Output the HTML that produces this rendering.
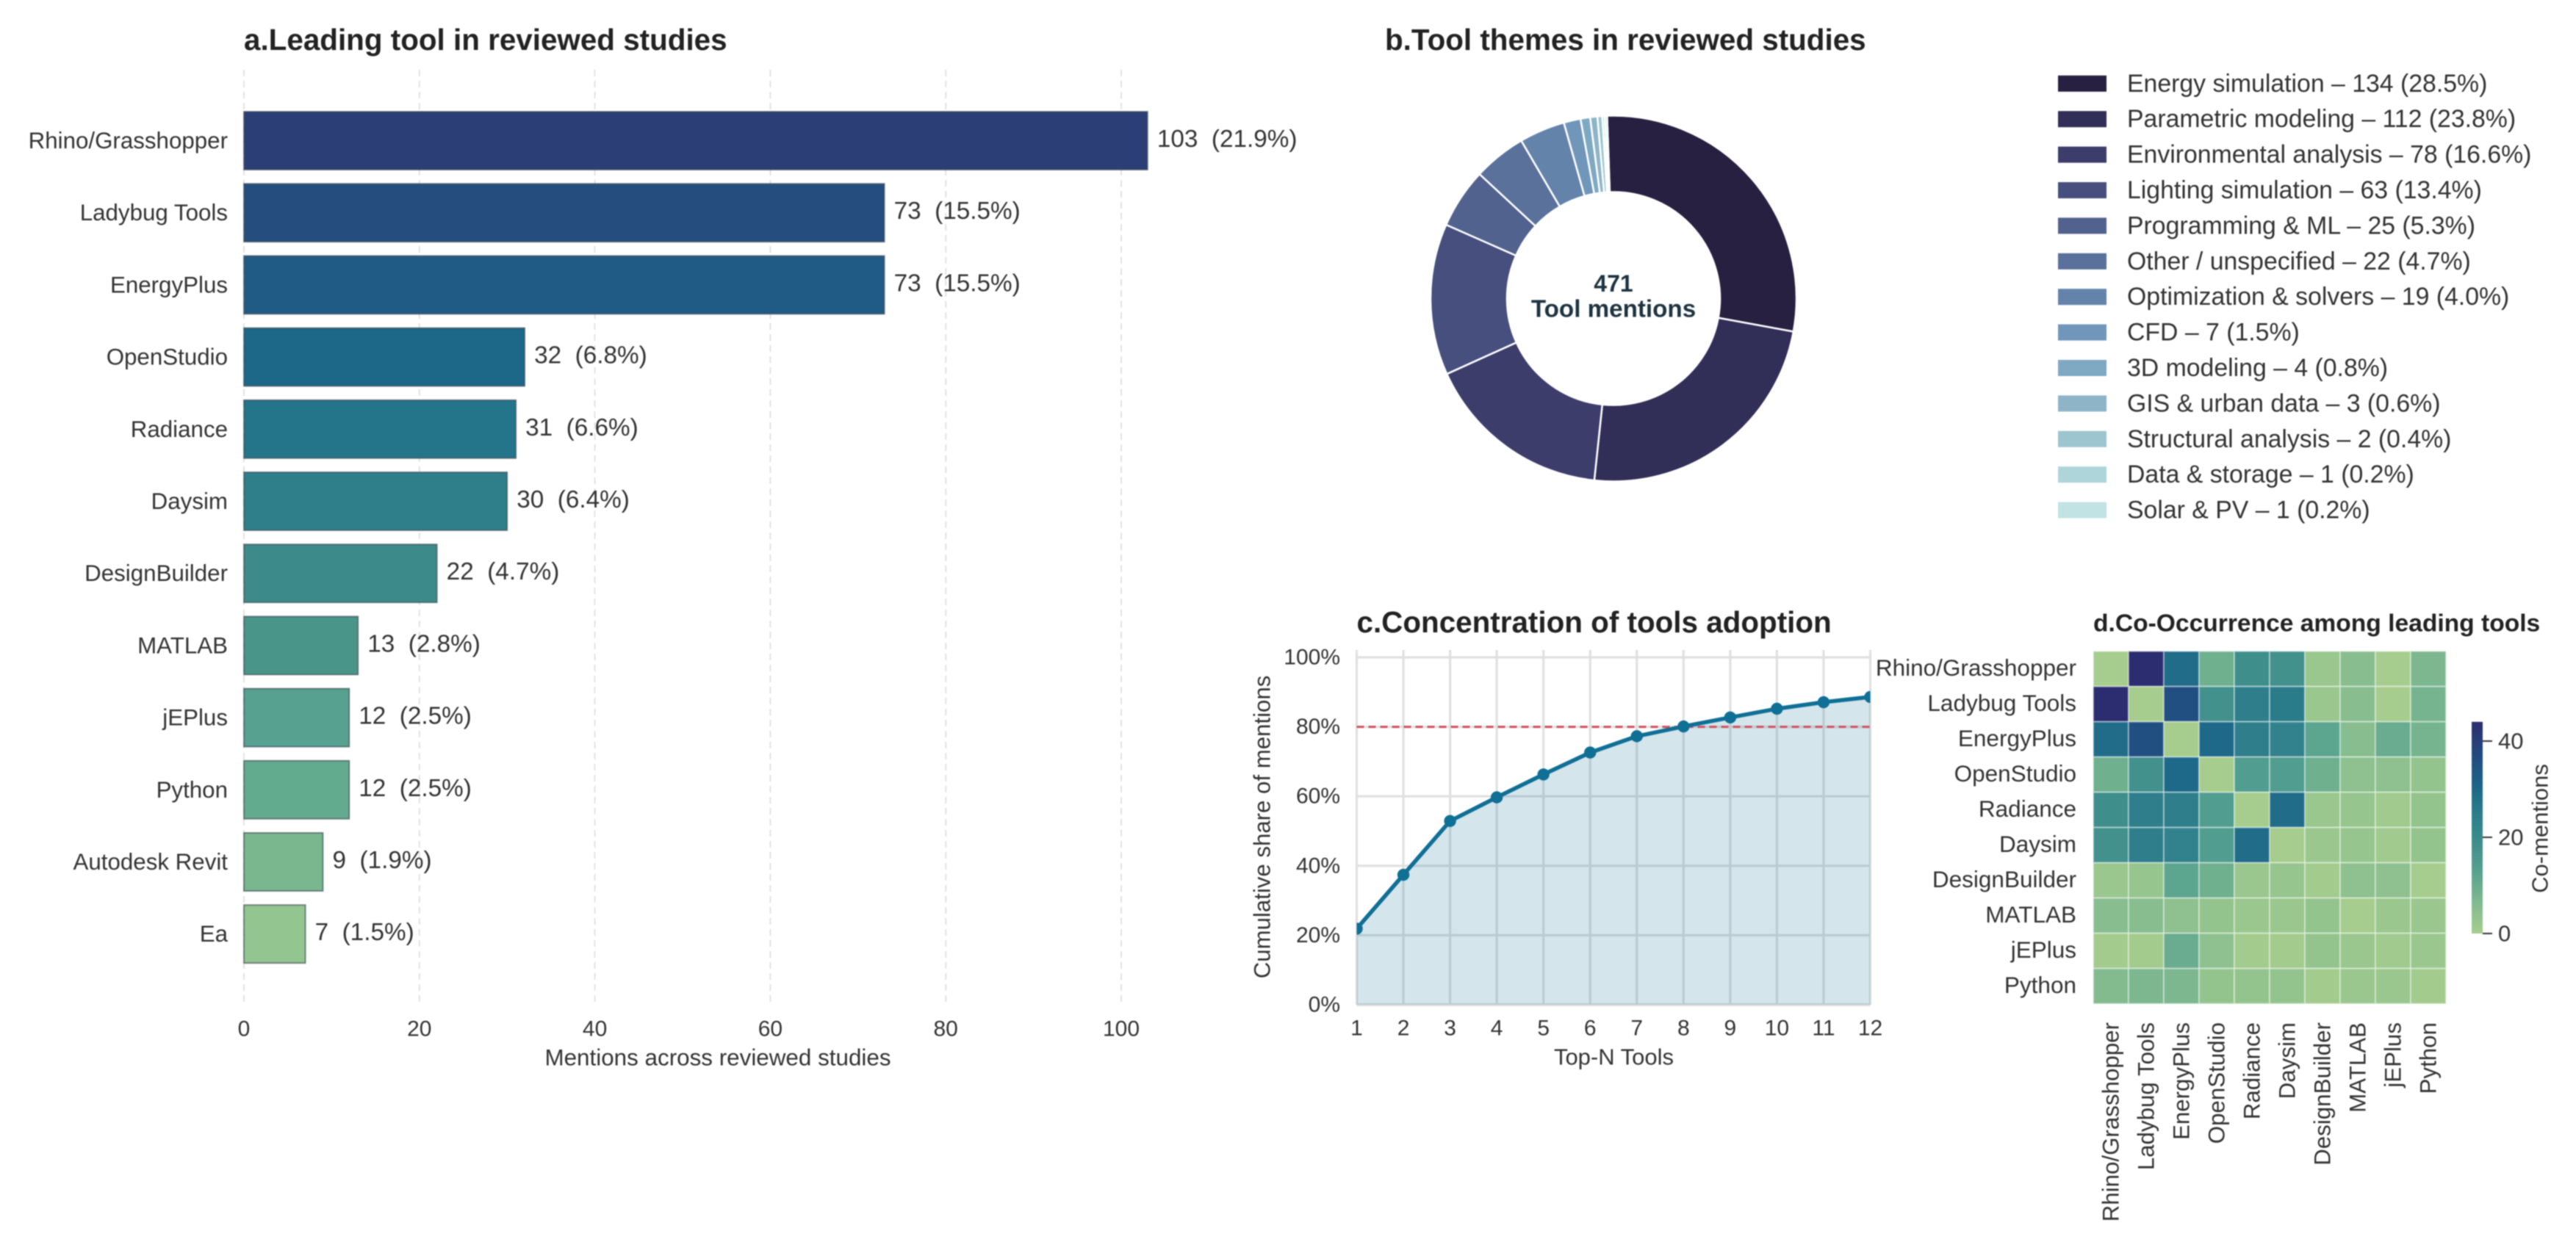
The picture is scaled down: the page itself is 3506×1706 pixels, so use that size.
<!DOCTYPE html>
<html lang="en">
<head>
<meta charset="utf-8">
<title>Tools in reviewed studies</title>
<style>
html,body{margin:0;padding:0;background:#fff;width:3506px;height:1706px;overflow:hidden}
svg{display:block;filter:blur(0.9px)}
text{font-family:"Liberation Sans",sans-serif;fill:#333;dominant-baseline:central}
.title{font-weight:700;fill:#222}
</style>
</head>
<body>
<svg id="fig" xmlns="http://www.w3.org/2000/svg" width="3506" height="1706" viewBox="0 0 3506 1706">
  <rect width="3506" height="1706" fill="#fff"/>
  <defs>
    <clipPath id="clipC"><rect x="1846.5" y="885" width="699" height="483"/></clipPath>
    <linearGradient id="cbarGrad" x1="0" y1="1" x2="0" y2="0"></linearGradient>
  </defs>
  <g id="panelA">
    <text class="title" x="332" y="54" font-size="40.4">a.Leading tool in reviewed studies</text>
    <text x="977" y="1440" font-size="31.4" text-anchor="middle">Mentions across reviewed studies</text>
  </g>
  <g id="panelB">
    <text class="title" x="1885" y="54" font-size="40.4">b.Tool themes in reviewed studies</text>
    <text x="2196" y="386" font-size="32" font-weight="700" text-anchor="middle" style="fill:#1d3340">471</text>
    <text x="2196" y="421" font-size="33.2" font-weight="700" text-anchor="middle" style="fill:#1d3340">Tool mentions</text>
  </g>
  <g id="panelC">
    <text class="title" x="1846.5" y="847" font-size="40.4">c.Concentration of tools adoption</text>
    <text x="2196.5" y="1439" font-size="31" text-anchor="middle">Top-N Tools</text>
    <text transform="translate(1718,1126) rotate(-90)" font-size="31.2" text-anchor="middle">Cumulative share of mentions</text>
  </g>
  <g id="panelD">
    <text class="title" x="2849" y="849" font-size="33.6">d.Co-Occurrence among leading tools</text>
    <text transform="translate(3457,1128) rotate(-90)" font-size="31" text-anchor="middle">Co-mentions</text>
  </g>
</svg>
<script>
// ---- Panel a data ----
const toolNames = ["Rhino/Grasshopper","Ladybug Tools","EnergyPlus","OpenStudio","Radiance","Daysim","DesignBuilder","MATLAB","jEPlus","Python","Autodesk Revit","Ea"];
const toolValues = [103,73,73,32,31,30,22,13,12,12,9,7];
const barTicks = [0,20,40,60,80,100];
const mentionsTotal = 471;

// ---- Panel b data ----
const themeNames = ["Energy simulation","Parametric modeling","Environmental analysis","Lighting simulation","Programming & ML","Other / unspecified","Optimization & solvers","CFD","3D modeling","GIS & urban data","Structural analysis","Data & storage","Solar & PV"];
const themeValues = [134,112,78,63,25,22,19,7,4,3,2,1,1];

// ---- Panel c data ----
const topN = [1,2,3,4,5,6,7,8,9,10,11,12];
const cumulativeShare = [21.9,37.4,52.9,59.7,66.3,72.6,77.3,80.1,82.7,85.2,87.1,88.6];
const shareTicks = [0,20,40,60,80,100];
const thresholdShare = [80];

// ---- Panel d data ----
const heatLabels = ["Rhino/Grasshopper","Ladybug Tools","EnergyPlus","OpenStudio","Radiance","Daysim","DesignBuilder","MATLAB","jEPlus","Python"];
const heatRow0 = [0,44,29,9,19,18,2,5,0,7];
const heatRow1 = [44,0,36,18,24,25,2,5,0,8];
const heatRow2 = [29,36,0,30,24,23,12,5,10,8];
const heatRow3 = [9,18,30,0,14,14,9,4,4,3];
const heatRow4 = [19,24,24,14,0,29,2,2.5,1,3];
const heatRow5 = [18,24,23,14,29,0,2,2.5,1,3];
const heatRow6 = [2,2.5,12,9,2,2.5,0.5,4,4,0];
const heatRow7 = [5,5,4,3,2,2,3,0,2,2];
const heatRow8 = [0.5,0.5,10,4,0.5,0.5,3,2,1,2];
const heatRow9 = [6,7,7,3,3,3,0.5,2,2,0.5];
const colorbarTicks = [0,20,40];
const colorbarMax = [44];

// ---- Palettes ----
const barColors = ["#2c3e76","#254e7f","#205b86","#1d6789","#24758a","#2e7f8a","#3c8a8a","#4a9589","#56a18f","#63ab8e","#7ab78f","#93c590"];
const themeColors = ["#272040","#312e57","#3c3d6b","#464f7d","#52628e","#5a719c","#6483ab","#7097b9","#7fa8c3","#8db5c7","#9cc5cf","#aed5da","#c2e3e3"];
const crestStops = [[0,"#a6cd8e"],[0.15,"#7fb98f"],[0.3,"#54a08f"],[0.45,"#3b8b8c"],[0.6,"#26788b"],[0.7,"#1c6488"],[0.85,"#22497f"],[1,"#2c2d70"]];

const NS = "http://www.w3.org/2000/svg";
function mk(tag, attrs, parent, txt){
  const e = document.createElementNS(NS, tag);
  for (const k in attrs) e.setAttribute(k, attrs[k]);
  if (txt !== undefined) e.textContent = txt;
  parent.appendChild(e);
  return e;
}
function hex2(c){return [parseInt(c.slice(1,3),16),parseInt(c.slice(3,5),16),parseInt(c.slice(5,7),16)];}
function crest(t){
  t = Math.max(0, Math.min(1, t));
  for (let i = 1; i < crestStops.length; i++){
    if (t <= crestStops[i][0]){
      const a = crestStops[i-1], b = crestStops[i];
      const f = (t-a[0])/(b[0]-a[0]);
      const ca = hex2(a[1]), cb = hex2(b[1]);
      return "rgb("+ca.map((v,j)=>Math.round(v+(cb[j]-v)*f)).join(",")+")";
    }
  }
  return crestStops[crestStops.length-1][1];
}
function pct(v,total){return (v/total*100).toFixed(1)+"%";}

// ---- Panel a ----
(function(){
  const g = document.getElementById("panelA");
  const xA = v => 332 + v*11.94;
  const yA = i => 152 + i*98.2;
  const barH = 79;
  barTicks.forEach(t=>{
    const line = mk("line",{x1:xA(t),x2:xA(t),y1:95,y2:1367,stroke:"#e2e2e2","stroke-width":2,"stroke-dasharray":"9 6"},g);
    
    
    const lab = mk("text",{x:xA(t),y:1401,"font-size":30,"text-anchor":"middle"},g,String(t));
    
    
  });
  toolValues.forEach((v,i)=>{
    const b = mk("rect",{x:xA(0),y:yA(i),width:xA(v)-xA(0),height:barH,fill:barColors[i],stroke:"rgba(55,70,80,.6)","stroke-width":2},g);
    
    
    const n = mk("text",{x:310,y:yA(i)+barH/2,"font-size":31.3,"text-anchor":"end"},g,toolNames[i]);
    
    
    const l = mk("text",{x:xA(v)+13,y:yA(i)+barH/2-2,"font-size":33.3},g,v+"  ("+pct(v,mentionsTotal)+")");
    l.style.whiteSpace = "pre";
    
    
  });
})();

// ---- Panel b ----
(function(){
  const g = document.getElementById("panelB");
  const cx = 2196, cy = 406.5, R = 249, r = 145;
  const total = themeValues.reduce((a,b)=>a+b,0);
  let a0 = -2;
  const first = g.querySelector("text:nth-of-type(2)");
  themeValues.forEach((v,i)=>{
    const a1 = a0 + v/total*360;
    const p = (rad,a)=>{const t=a*Math.PI/180;return (cx+rad*Math.sin(t)).toFixed(2)+" "+(cy-rad*Math.cos(t)).toFixed(2);};
    const large = (a1-a0)>180?1:0;
    const d = "M"+p(R,a0)+"A"+R+" "+R+" 0 "+large+" 1 "+p(R,a1)+"L"+p(r,a1)+"A"+r+" "+r+" 0 "+large+" 0 "+p(r,a0)+"Z";
    const s = document.createElementNS(NS,"path");
    s.setAttribute("d",d);
    s.setAttribute("fill",themeColors[i]);
    s.setAttribute("stroke","#fff");
    s.setAttribute("stroke-width","2.5");
    
    
    g.insertBefore(s, first);
    a0 = a1;
    const yRow = 113.8 + i*48.4;
    const sw = mk("rect",{x:2801,y:yRow-11,width:66,height:22,fill:themeColors[i]},g);
    
    
    const t = mk("text",{x:2895,y:yRow,"font-size":33.8},g,themeNames[i]+" \u2013 "+v+" ("+pct(v,total)+")");
    
    
  });
})();

// ---- Panel c ----
(function(){
  const g = document.getElementById("panelC");
  const xC = n => 1846.5 + (n-1)*(699/11);
  const yC = v => 1368 - v*4.73;
  shareTicks.forEach(t=>{
    const gl = mk("line",{x1:xC(1),x2:xC(12),y1:yC(t),y2:yC(t),stroke:"#e0e0e0","stroke-width":t===0?4:3.2},g);
    
    
    const lb = mk("text",{x:1824,y:yC(t),"font-size":30,"text-anchor":"end"},g,t+"%");
    
    
  });
  topN.forEach(n=>{
    const gl = mk("line",{x1:xC(n),x2:xC(n),y1:885,y2:1368,stroke:"#e0e0e0","stroke-width":3.2},g);
    
    
    const lb = mk("text",{x:xC(n),y:1400,"font-size":30,"text-anchor":"middle"},g,String(n));
    
    
  });
  const pts = topN.map((n,i)=>xC(n).toFixed(1)+","+yC(cumulativeShare[i]).toFixed(1));
  const area = mk("polygon",{points:xC(1)+","+yC(0)+" "+pts.join(" ")+" "+xC(12)+","+yC(0),fill:"#0f6f95","fill-opacity":0.18},g);
  
  
  const ref = mk("line",{x1:xC(1),x2:xC(12),y1:yC(thresholdShare[0]),y2:yC(thresholdShare[0]),stroke:"#d5505c","stroke-width":3,"stroke-dasharray":"10 6"},g);
  
  
  const clipG = mk("g",{"clip-path":"url(#clipC)"},g);
  const line = mk("polyline",{points:pts.join(" "),fill:"none",stroke:"#0f6f95","stroke-width":5.5,"stroke-linejoin":"round"},clipG);
  
  
  topN.forEach((n,i)=>{
    const c = mk("circle",{cx:xC(n),cy:yC(cumulativeShare[i]),r:8.2,fill:"#0f6f95"},clipG);
    
    
  });
})();

// ---- Panel d ----
(function(){
  const g = document.getElementById("panelD");
  const heatRows = [heatRow0,heatRow1,heatRow2,heatRow3,heatRow4,heatRow5,heatRow6,heatRow7,heatRow8,heatRow9];
  const x0 = 2849, y0 = 886.7, cell = 48;
  heatRows.forEach((row,i)=>{
    row.forEach((v,j)=>{
      const c = mk("rect",{x:x0+j*cell,y:y0+i*cell,width:cell,height:cell,fill:crest(v/colorbarMax[0]),stroke:"rgba(255,255,255,.4)","stroke-width":2},g);
      
      
    });
  });
  heatLabels.forEach((n,i)=>{
    const yl = mk("text",{x:2826,y:y0+cell*(i+.5)-1.5,"font-size":31.5,"text-anchor":"end"},g,n);
    
    
    const xl = mk("text",{transform:"translate("+(x0+cell*(i+.5))+",1392) rotate(-90)","font-size":31.3,"text-anchor":"end"},g,n);
    
    
  });
  const grad = document.getElementById("cbarGrad");
  crestStops.forEach(s=>{ mk("stop",{offset:s[0],"stop-color":s[1]},grad); });
  const yB = v => 1271 - v*6.55;
  const bar = mk("rect",{x:3364,y:yB(colorbarMax[0]),width:15,height:yB(0)-yB(colorbarMax[0]),fill:"url(#cbarGrad)"},g);
  
  
  colorbarTicks.forEach(t=>{
    const tk = mk("line",{x1:3379,x2:3392,y1:yB(t),y2:yB(t),stroke:"#333","stroke-width":2},g);
    
    
    const lb = mk("text",{x:3400,y:yB(t),"font-size":31},g,String(t));
    
    
  });
})();
</script>
</body>
</html>
